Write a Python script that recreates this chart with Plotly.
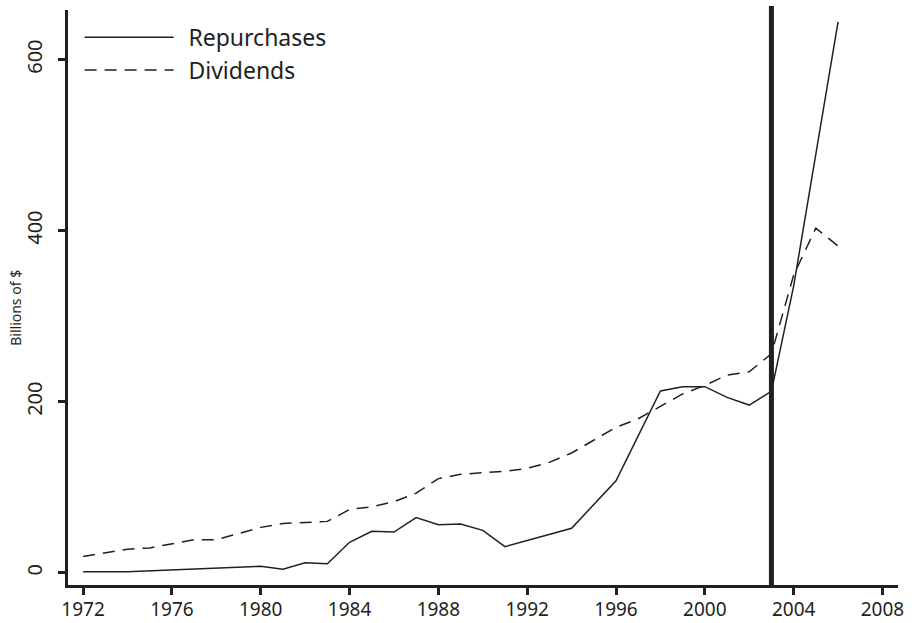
import plotly.graph_objects as go

rep_years = [1972, 1974, 1980, 1981, 1982, 1983, 1984, 1985, 1986, 1987, 1988, 1989,
             1990, 1991, 1994, 1996, 1998, 1999, 2000, 2001, 2002, 2003, 2004, 2005, 2006]
repurchases = [1, 1, 7.5, 4, 11.5, 10.5, 35.5, 48.5, 47.5, 64.5, 56, 57, 49.5, 30.5,
               52, 107.5, 212.5, 217.5, 217.5, 205, 196, 212, 335, 490, 644]

div_years = list(range(1972, 2007))
dividends = [19, 23, 27.5, 29, 34, 38.5, 38.5, 46, 53, 57.5, 58.5, 60, 74, 77, 83, 93,
             110, 115, 117, 118.5, 122, 129, 140, 155, 170, 180, 195, 209, 219, 231,
             235, 256, 348, 403, 382]

x_ticks = list(range(1972, 2009, 4))
y_ticks = [0, 200, 400, 600]
marker_year = 2003

ink = "#231f20"
font_family = "Noto Sans, Open Sans, Liberation Sans, sans-serif"
gap = "\u00a0\u2009"

fig = go.Figure()
fig.add_trace(go.Scatter(x=rep_years, y=repurchases, mode="lines", name=gap + "Repurchases",
                         line=dict(color=ink, width=1.5)))
fig.add_trace(go.Scatter(x=div_years, y=dividends, mode="lines", name=gap + "Dividends",
                         line=dict(color=ink, width=1.5, dash="12px,8px")))

fig.add_shape(type="line", xref="x", yref="paper", x0=marker_year, x1=marker_year,
              y0=0, y1=1.007, line=dict(color=ink, width=5))

fig.add_annotation(text="Billions of $", xref="paper", yref="paper", x=-0.0627, y=0.482,
                   xanchor="center", yanchor="middle", textangle=-90, showarrow=False,
                   font=dict(size=14, color=ink))

fig.update_layout(
    width=914, height=623,
    margin=dict(l=68, r=16, t=10, b=38, autoexpand=False),
    paper_bgcolor="white", plot_bgcolor="white",
    font=dict(family=font_family, color=ink, size=20),
    showlegend=True,
    legend=dict(x=0.014, y=0.99, xanchor="left", yanchor="top",
                font=dict(size=23, color=ink), itemwidth=89,
                bgcolor="rgba(0,0,0,0)", tracegroupgap=0),
    xaxis=dict(range=[1971.32, 2008.70], tickmode="array", tickvals=x_ticks,
               ticktext=[str(v) for v in x_ticks], automargin=False,
               showgrid=False, zeroline=False, showline=True, linecolor=ink, linewidth=3,
               ticks="outside", ticklen=7, tickwidth=2.5, tickcolor=ink,
               ticklabelstandoff=-2,
               tickfont=dict(size=19, color=ink)),
    yaxis=dict(range=[-14.4, 658], tickmode="array", tickvals=y_ticks,
               ticktext=[str(v) for v in y_ticks], automargin=False,
               showgrid=False, zeroline=False, showline=True, linecolor=ink, linewidth=3,
               ticks="outside", ticklen=7, tickwidth=2.5, tickcolor=ink,
               tickangle=-90, ticklabelstandoff=8,
               tickfont=dict(size=20, color=ink)),
)

fig.write_html("out.html", config={"displayModeBar": False},
               post_script="document.body.style.margin='0';")
